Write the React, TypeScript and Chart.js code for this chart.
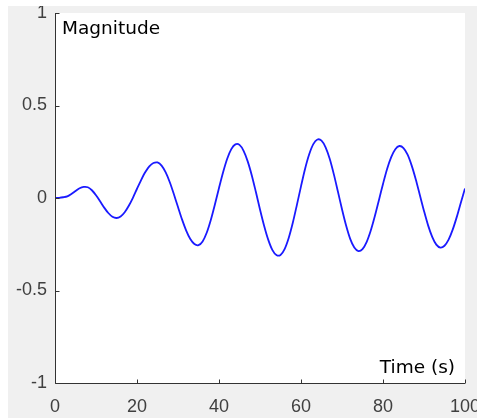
import React, { useEffect, useRef } from "react";
import { Chart, registerables } from "chart.js";

Chart.register(...registerables);

// Time axis (s)
const times: number[] = Array.from({ length: 101 }, (_, i) => i);

// Magnitude, one value per second
const magnitude: number[] = [
  0.0, 0.001, 0.004, 0.009, 0.022, 0.038, 0.053, 0.06, 0.058, 0.042,
  0.015, -0.018, -0.052, -0.081, -0.101, -0.108, -0.1, -0.077, -0.042, 0.001,
  0.05, 0.097, 0.139, 0.171, 0.189, 0.192, 0.175, 0.138, 0.085, 0.02,
  -0.049, -0.117, -0.176, -0.222, -0.249, -0.255, -0.235, -0.188, -0.119, -0.035,
  0.054, 0.139, 0.212, 0.264, 0.29, 0.287, 0.255, 0.198, 0.122, 0.032,
  -0.062, -0.15, -0.225, -0.28, -0.308, -0.308, -0.276, -0.216, -0.134, -0.037,
  0.063, 0.158, 0.236, 0.291, 0.316, 0.31, 0.274, 0.212, 0.129, 0.035,
  -0.061, -0.149, -0.221, -0.268, -0.287, -0.276, -0.238, -0.177, -0.099, -0.012,
  0.076, 0.157, 0.221, 0.264, 0.281, 0.27, 0.234, 0.175, 0.1, 0.015,
  -0.07, -0.148, -0.21, -0.252, -0.268, -0.258, -0.225, -0.171, -0.102, -0.024,
  0.052,
];

const xTicks: number[] = [0, 20, 40, 60, 80, 100];
const yTicks: number[] = [-1, -0.5, 0, 0.5, 1];
const yLabel = "Magnitude";
const xLabel = "Time (s)";

const AXIS_COLOR = "#333333";
const TICK_LEN = 4;

const matlabAxes = {
  id: "matlabAxes",
  beforeDraw(chart: any) {
    const { ctx, chartArea: a } = chart;
    ctx.save();
    ctx.fillStyle = "#ffffff";
    ctx.fillRect(a.left, a.top, a.right - a.left, a.bottom - a.top);
    ctx.restore();
  },
  afterDraw(chart: any) {
    const { ctx, chartArea: a, scales } = chart;
    const xs = scales.x;
    const ys = scales.y;
    ctx.save();
    ctx.strokeStyle = AXIS_COLOR;
    ctx.lineWidth = 1;
    ctx.beginPath();
    const L = Math.round(a.left) + 0.5;
    const B = Math.round(a.bottom) + 0.5;
    ctx.moveTo(L, Math.round(a.top));
    ctx.lineTo(L, B);
    ctx.lineTo(Math.round(a.right), B);
    for (const v of xTicks) {
      const px = Math.round(xs.getPixelForValue(v)) + 0.5;
      ctx.moveTo(px, B);
      ctx.lineTo(px, B - TICK_LEN);
    }
    for (const v of yTicks) {
      const py = Math.round(ys.getPixelForValue(v)) + 0.5;
      ctx.moveTo(L, py);
      ctx.lineTo(L + TICK_LEN, py);
    }
    ctx.stroke();

    ctx.fillStyle = "#000000";
    ctx.font = '18.5px "DejaVu Sans"';
    ctx.textBaseline = "alphabetic";
    ctx.textAlign = "left";
    ctx.fillText(yLabel, a.left + 7, a.top + 21);
    ctx.textAlign = "right";
    ctx.fillText(xLabel, a.right - 10, a.bottom - 10);
    ctx.restore();
  },
};

export default function App() {
  const ref = useRef<HTMLCanvasElement | null>(null);

  useEffect(() => {
    if (!ref.current) return;
    const chart = new Chart(ref.current, {
      type: "line",
      data: {
        datasets: [
          {
            data: times.map((t, i) => ({ x: t, y: magnitude[i] })),
            borderColor: "#1a1aff",
            borderWidth: 1.8,
            pointRadius: 0,
            tension: 0.3,
            fill: false,
          },
        ],
      },
      options: {
        animation: false,
        responsive: false,
        layout: { padding: { left: 0, top: 7, right: 12, bottom: 0 } },
        plugins: {
          legend: { display: false },
          tooltip: { enabled: false },
          title: { display: false },
        },
        scales: {
          x: {
            type: "linear",
            min: 0,
            max: 100,
            grid: { display: false, drawTicks: false },
            border: { display: false },
            afterBuildTicks: (s: any) => {
              s.ticks = xTicks.map((v) => ({ value: v }));
            },
            afterFit: (s: any) => {
              s.height = 35;
              s.paddingLeft = 0;
              s.paddingRight = 0;
            },
            ticks: {
              autoSkip: false,
              maxRotation: 0,
              padding: 13,
              color: "#404040",
              font: { family: '"Liberation Sans", Arial, sans-serif', size: 18 },
              callback: (v: any) => String(v),
            },
          },
          y: {
            type: "linear",
            min: -1,
            max: 1,
            grid: { display: false, drawTicks: false },
            border: { display: false },
            afterBuildTicks: (s: any) => {
              s.ticks = yTicks.map((v) => ({ value: v }));
            },
            afterFit: (s: any) => {
              s.width = 47;
              s.paddingTop = 0;
              s.paddingBottom = 0;
            },
            ticks: {
              autoSkip: false,
              padding: 8,
              color: "#404040",
              font: { family: '"Liberation Sans", Arial, sans-serif', size: 18 },
              callback: (v: any) => String(v),
            },
          },
        },
      },
      plugins: [matlabAxes],
    });
    return () => chart.destroy();
  }, []);

  return (
    <div
      style={{
        position: "absolute",
        left: 8,
        top: 6,
        width: 469,
        height: 412,
        background: "#f0f0f0",
      }}
    >
      <canvas ref={ref} width={469} height={412} style={{ display: "block" }} />
    </div>
  );
}
